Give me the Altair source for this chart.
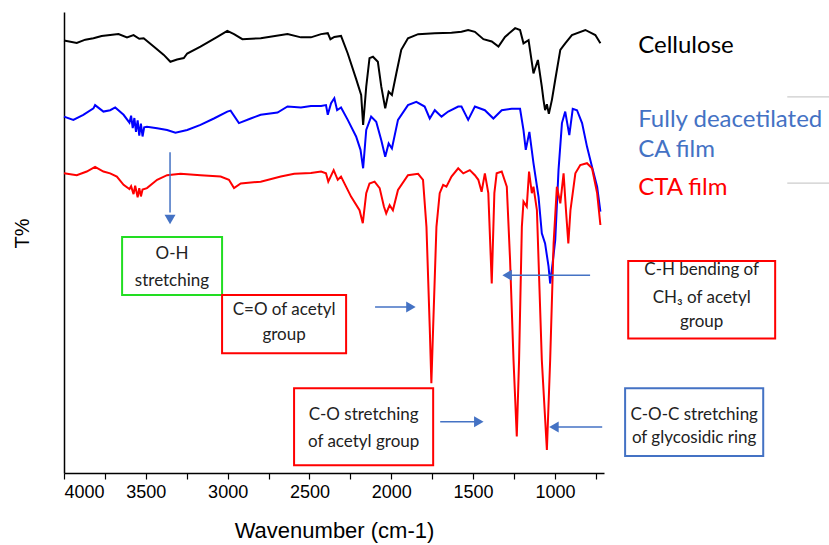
import altair as alt
import pandas as pd

# ---- spectra (wavenumber cm-1, T% arbitrary offset units) ----
cell_wn = [4000, 3922, 3870, 3820, 3770, 3718, 3667, 3615, 3575, 3540, 3513, 3452, 3390, 3350, 3309, 3268, 3247, 3166, 3063, 3002, 2961, 2910, 2798, 2634, 2552, 2491, 2429, 2388, 2372, 2348, 2307, 2266, 2215, 2184, 2172, 2153, 2133, 2112, 2082, 2061, 2037, 2016, 1996, 1969, 1939, 1898, 1836, 1734, 1632, 1571, 1530, 1489, 1437, 1386, 1345, 1305, 1243, 1213, 1192, 1161, 1131, 1104, 1080, 1070, 1060, 1049, 1037, 1018, 998, 967, 937, 896, 814, 753, 722]
cell_t = [93.8, 93.3, 94.0, 94.3, 94.8, 95.0, 95.2, 94.5, 95.0, 94.2, 94.3, 92.5, 90.7, 89.2, 89.7, 90.0, 91.0, 92.5, 94.6, 95.9, 95.2, 94.1, 94.3, 95.2, 94.5, 94.5, 95.2, 95.4, 94.1, 94.6, 94.8, 91.0, 85.5, 82.0, 75.5, 83.8, 90.0, 90.3, 89.2, 83.8, 79.1, 82.7, 82.0, 86.7, 91.8, 94.3, 95.2, 95.4, 95.5, 95.7, 96.1, 95.7, 94.1, 93.6, 92.5, 94.6, 96.5, 96.1, 93.2, 93.9, 86.7, 89.6, 83.8, 81.0, 78.7, 80.0, 77.9, 81.0, 85.3, 91.8, 93.2, 95.0, 96.1, 95.0, 93.2]

ca_wn = [4000, 3943, 3882, 3820, 3810, 3759, 3718, 3687, 3636, 3600, 3590, 3580, 3570, 3560, 3550, 3540, 3530, 3520, 3510, 3493, 3431, 3370, 3319, 3247, 3166, 3084, 3002, 2982, 2931, 2859, 2798, 2695, 2634, 2552, 2491, 2429, 2399, 2388, 2368, 2348, 2331, 2307, 2266, 2215, 2188, 2172, 2153, 2123, 2092, 2061, 2037, 2016, 1996, 1959, 1898, 1847, 1796, 1765, 1734, 1693, 1652, 1591, 1571, 1530, 1489, 1428, 1376, 1325, 1264, 1213, 1192, 1178, 1156, 1131, 1100, 1080, 1060, 1039, 1029, 1014, 998, 978, 957, 937, 912, 891, 865, 834, 804, 773, 742, 722]
ca_t = [77.3, 76.6, 77.7, 79.1, 79.8, 78.4, 78.7, 79.3, 77.7, 76.0, 77.5, 74.8, 77.0, 74.0, 76.5, 73.2, 75.8, 73.0, 75.0, 75.1, 74.8, 74.4, 73.8, 74.4, 75.5, 76.9, 78.4, 78.6, 75.9, 76.9, 77.7, 78.2, 79.5, 79.3, 79.6, 79.6, 79.8, 77.7, 80.2, 81.3, 78.7, 79.3, 76.6, 73.0, 70.1, 66.1, 74.4, 77.3, 76.2, 72.2, 68.6, 71.5, 70.4, 76.6, 79.8, 80.5, 79.5, 76.9, 78.7, 77.3, 78.4, 79.5, 79.5, 76.6, 79.5, 78.7, 76.9, 78.7, 79.0, 79.0, 74.4, 70.1, 74.0, 67.2, 59.9, 52.0, 49.8, 44.8, 41.1, 45.5, 50.5, 65.7, 75.9, 78.4, 73.3, 79.0, 78.7, 75.9, 70.8, 66.4, 62.1, 56.7]

cta_wn = [4000, 3922, 3861, 3810, 3759, 3718, 3677, 3636, 3600, 3590, 3575, 3565, 3550, 3540, 3530, 3520, 3493, 3431, 3370, 3288, 3166, 3043, 2992, 2961, 2920, 2798, 2675, 2593, 2491, 2429, 2399, 2385, 2352, 2327, 2307, 2245, 2194, 2174, 2153, 2133, 2102, 2071, 2045, 2031, 2010, 1990, 1959, 1898, 1836, 1806, 1785, 1765, 1755, 1744, 1724, 1704, 1683, 1663, 1632, 1591, 1560, 1520, 1489, 1468, 1448, 1428, 1407, 1386, 1370, 1356, 1325, 1294, 1274, 1253, 1233, 1219, 1202, 1192, 1172, 1158, 1141, 1131, 1110, 1080, 1049, 1029, 1008, 988, 967, 947, 931, 918, 905, 875, 845, 804, 773, 742, 722]
cta_t = [65.0, 64.6, 65.4, 66.4, 65.4, 65.0, 64.3, 62.5, 61.6, 62.2, 60.5, 62.3, 59.8, 61.8, 60.0, 61.5, 61.8, 63.6, 64.6, 64.9, 64.6, 64.3, 63.6, 61.8, 62.8, 63.2, 64.3, 64.9, 65.1, 65.4, 65.0, 63.2, 65.7, 63.6, 64.3, 59.9, 57.0, 54.2, 60.7, 62.8, 63.2, 61.8, 57.8, 56.3, 58.1, 57.0, 61.4, 64.6, 64.9, 63.6, 53.4, 31.7, 19.5, 31.7, 53.4, 60.7, 62.5, 62.1, 64.3, 66.1, 65.0, 65.7, 64.6, 63.6, 61.0, 65.0, 60.7, 41.1, 60.7, 65.0, 65.4, 62.1, 46.2, 24.5, 7.9, 24.5, 53.4, 58.9, 57.8, 65.4, 60.7, 62.1, 57.0, 24.5, 5.0, 24.5, 49.8, 62.1, 58.5, 65.0, 56.3, 49.8, 57.0, 65.0, 66.8, 67.2, 66.1, 60.7, 53.8]

series_names = ["Cellulose", "Fully deacetilated CA film", "CTA film"]
series_colors = ["#000000", "#0000ff", "#ff0000"]

x_ticks = [4000, 3750, 3500, 3250, 3000, 2750, 2500, 2250, 2000, 1750, 1500, 1250, 1000, 750]

# ---- annotations (data coordinates) ----
legend_text = ["Cellulose", "Fully deacetilated", "CA film", "CTA film"]
legend_wn = [491, 491, 491, 491]
legend_t = [91.1, 75.1, 68.5, 60.2]
legend_col = ["#000000", "#4472C4", "#4472C4", "#ff0000"]

sep_wn = [-420, -420]
sep_wn2 = [-700, -700]
sep_t = [81.6, 62.9]

box_x = [3645, 3034, 552, 2594, 571]
box_x2 = [3034, 2276, -346, 1744, -273]
box_y = [51.2, 38.6, 46.0, 18.4, 18.4]
box_y2 = [38.6, 26.0, 29.2, 1.7, 3.7]
box_col = ["#22dd22", "#ff0000", "#ff0000", "#ff0000", "#4472C4"]

note_text = ["O-H", "stretching", "C=O of acetyl", "group", "C-H bending  of", "CH\u2083  of acetyl", "group",
             "C-O stretching", "of acetyl group", "C-O-C stretching", "of glycosidic ring"]
note_wn = [3340, 3340, 2655, 2655, 103, 103, 103, 2169, 2169, 149, 149]
note_t = [46.4, 40.6, 34.3, 28.9, 42.9, 36.8, 31.6, 11.5, 5.7, 11.5, 6.4]

arr_x = [3352, 2099, 785, 1701, 711]
arr_x2 = [3352, 1870, 1300, 1455, 1015]
arr_y = [69.6, 36.0, 42.9, 11.1, 10.0]
arr_y2 = [56.5, 36.0, 42.9, 11.1, 10.0]
head_x = [3352, 1880, 1292, 1465, 1006]
head_y = [55.0, 36.0, 42.9, 11.1, 10.0]
head_shape = ["triangle-down", "triangle-right", "triangle-left", "triangle-right", "triangle-left"]

# ---- build tables ----
rows = []
for name, wn, t in zip(series_names, [cell_wn, ca_wn, cta_wn], [cell_t, ca_t, cta_t]):
    for i, (a, b) in enumerate(zip(wn, t)):
        rows.append({"series": name, "wn": a, "T": b, "i": i})
spec = pd.DataFrame(rows)

xscale = alt.Scale(domain=[4000, 700], nice=False, zero=False)
yscale = alt.Scale(domain=[0, 100], nice=False, zero=False)

AX_FONT = "Liberation Sans"

lines = alt.Chart(spec).mark_line(strokeWidth=2, clip=False).encode(
    x=alt.X("wn:Q", scale=xscale, title="Wavenumber (cm-1)",
            axis=alt.Axis(values=x_ticks, labelExpr="datum.value % 500 == 0 ? datum.label : ''",
                          format="d", grid=False, tickSize=6, tickColor="#000", domainColor="#000",
                          domainWidth=1.5, tickWidth=1.2, labelFontSize=18,
                          labelColor="#000", labelPadding=4,
                          titleFontSize=22, titleFontWeight="normal", titleColor="#000",
                          titleY=57, titleBaseline="middle")),
    y=alt.Y("T:Q", scale=yscale, title="T%",
            axis=alt.Axis(labels=False, ticks=False, grid=False, domainColor="#000", domainWidth=1.5,
                          titleFontSize=20, titleFontWeight="normal",
                          titleColor="#000", titleAngle=-90, titleX=-42, titleY=221,
                          titleAlign="center", titleBaseline="middle")),
    color=alt.Color("series:N", scale=alt.Scale(domain=series_names, range=series_colors), legend=None),
    order="i:Q",
)

ann_rect = pd.DataFrame({"x": box_x, "x2": box_x2, "y": box_y, "y2": box_y2, "c": box_col})
rects = alt.Chart(ann_rect).mark_rect(fill="white", strokeWidth=2).encode(
    x=alt.X("x:Q", scale=xscale), x2="x2:Q", y=alt.Y("y:Q", scale=yscale), y2="y2:Q",
    stroke=alt.Stroke("c:N", scale=None))

notes = alt.Chart(pd.DataFrame({"x": note_wn, "y": note_t, "t": note_text})).mark_text(
    font="Lato", fontSize=17, color="#222", align="center", baseline="alphabetic").encode(
    x=alt.X("x:Q", scale=xscale), y=alt.Y("y:Q", scale=yscale), text="t:N")

leg = alt.Chart(pd.DataFrame({"x": legend_wn, "y": legend_t, "t": legend_text, "c": legend_col})).mark_text(
    font="Lato", fontSize=24, align="left", baseline="alphabetic").encode(
    x=alt.X("x:Q", scale=xscale), y=alt.Y("y:Q", scale=yscale), text="t:N",
    color=alt.Color("c:N", scale=None))

seps = alt.Chart(pd.DataFrame({"x": sep_wn, "x2": sep_wn2, "y": sep_t})).mark_rule(
    color="#cccccc", strokeWidth=1.2).encode(
    x=alt.X("x:Q", scale=xscale), x2="x2:Q", y=alt.Y("y:Q", scale=yscale))

arrows = alt.Chart(pd.DataFrame({"x": arr_x, "x2": arr_x2, "y": arr_y, "y2": arr_y2})).mark_rule(
    color="#4472C4", strokeWidth=1.5).encode(
    x=alt.X("x:Q", scale=xscale), x2="x2:Q", y=alt.Y("y:Q", scale=yscale), y2="y2:Q")

heads = alt.Chart(pd.DataFrame({"x": head_x, "y": head_y, "s": head_shape})).mark_point(
    filled=True, color="#4472C4", size=120, opacity=1).encode(
    x=alt.X("x:Q", scale=xscale), y=alt.Y("y:Q", scale=yscale), shape=alt.Shape("s:N", scale=None))

chart = alt.layer(lines, seps, arrows, heads, rects, notes, leg).properties(
    width=540, height=461,
    padding={"left": 64, "top": 12, "right": 225, "bottom": 72},
    autosize=alt.AutoSizeParams(type="none"),
    background="white",
).configure_view(stroke=None).configure_axis(
    labelFont=AX_FONT, titleFont=AX_FONT
)

chart.save("out.html", embed_options={"renderer": "svg", "actions": False})
